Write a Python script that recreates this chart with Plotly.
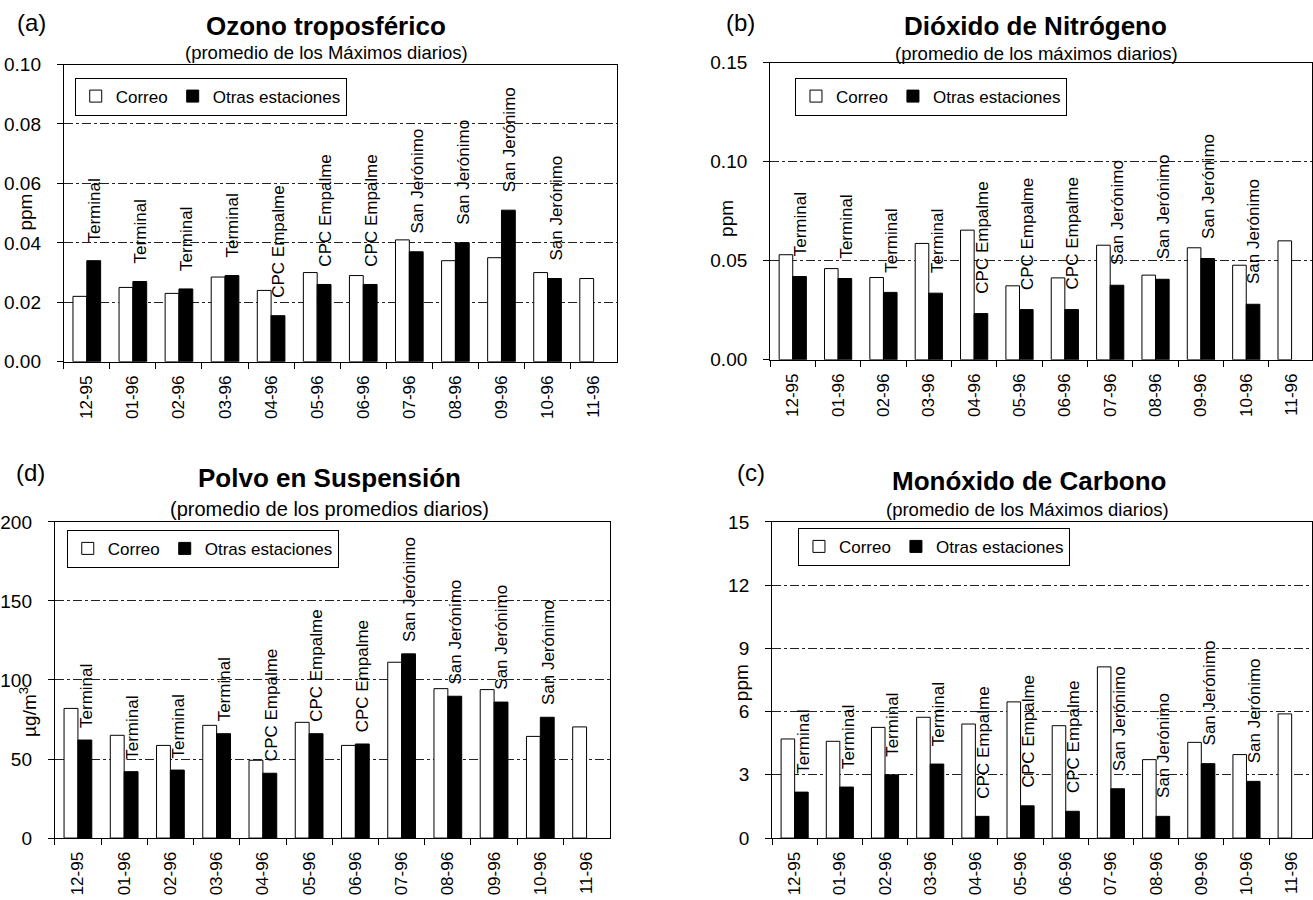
import plotly.graph_objects as go

# ---------------- data ----------------
months = ["12-95", "01-96", "02-96", "03-96", "04-96", "05-96",
          "06-96", "07-96", "08-96", "09-96", "10-96", "11-96"]
stations = ["Terminal", "Terminal", "Terminal", "Terminal",
            "CPC Empalme", "CPC Empalme", "CPC Empalme",
            "San Jerónimo", "San Jerónimo", "San Jerónimo", "San Jerónimo"]

ozono_correo = [0.022, 0.025, 0.023, 0.0285, 0.024, 0.030, 0.029, 0.041, 0.034, 0.035, 0.030, 0.028]
ozono_otras = [0.034, 0.027, 0.0245, 0.029, 0.0155, 0.026, 0.026, 0.037, 0.040, 0.051, 0.028, None]

no2_correo = [0.053, 0.046, 0.0415, 0.0587, 0.0654, 0.0373, 0.0413, 0.0578, 0.0427, 0.0565, 0.0477, 0.060]
no2_otras = [0.042, 0.041, 0.034, 0.0336, 0.0233, 0.0253, 0.0253, 0.0376, 0.0406, 0.0511, 0.028, None]

polvo_correo = [82, 65, 58.6, 71.3, 49.2, 73.2, 58.6, 111.2, 94.5, 93.9, 64.3, 70.3]
polvo_otras = [62, 42, 43, 66, 41, 66, 59.5, 116.5, 89.7, 86, 76.4, None]

co_correo = [4.7, 4.59, 5.25, 5.73, 5.41, 6.46, 5.33, 8.12, 3.72, 4.54, 3.96, 5.89]
co_otras = [2.18, 2.42, 3.0, 3.51, 1.03, 1.53, 1.27, 2.34, 1.03, 3.53, 2.69, None]

# ---------------- layout helpers ----------------
W, H = 1313, 900
FONT = "Liberation Sans, Arial, sans-serif"
# the photographed page shows the figure slightly offset / compressed vertically
Y_OFF, Y_SCALE = 9.5, 0.976


def fx(p):
    return p / W


def fy(p):
    return 1 - ((p - Y_OFF) / Y_SCALE) / H


panels = [
    dict(ax="", correo=ozono_correo, otras=ozono_otras, xd=(60, 615), yd=(64, 361),
         yr=[0, 0.10], dtick=0.02, fmt=".2f", xend=11.5, leg=(71, 77), ysh=16),
    dict(ax="2", correo=no2_correo, otras=no2_otras, xd=(769, 1313), yd=(62, 359),
         yr=[0, 0.15], dtick=0.05, fmt=".2f", xend=11.45, leg=(794, 77), ysh=18),
    dict(ax="3", correo=polvo_correo, otras=polvo_otras, xd=(51, 608), yd=(521, 837),
         yr=[0, 200], dtick=50, fmt="d", xend=11.5, leg=(63, 529), ysh=10),
    dict(ax="4", correo=co_correo, otras=co_otras, xd=(771, 1313), yd=(521, 837),
         yr=[0, 15], dtick=3, fmt="d", xend=11.45, leg=(797, 527), ysh=16),
]

fig = go.Figure()
annotations = []
layout = {}

for p in panels:
    a = p["ax"]
    legname = "legend" + a
    fig.add_trace(go.Bar(
        x=months, y=p["correo"], name="Correo",
        marker=dict(color="white", line=dict(color="black", width=1)),
        xaxis="x" + a, yaxis="y" + a, legend=legname, showlegend=True))
    fig.add_trace(go.Bar(
        x=months, y=p["otras"], name="Otras estaciones",
        marker=dict(color="black", line=dict(color="black", width=1)),
        xaxis="x" + a, yaxis="y" + a, legend=legname, showlegend=True))

    layout["xaxis" + a] = dict(
        domain=[fx(p["xd"][0]), fx(p["xd"][1])], anchor="y" + a,
        type="category", range=[-0.5, p["xend"]],
        tickson="boundaries", ticks="outside", ticklen=6, tickcolor="black",
        tickangle=-90, tickfont=dict(size=17, color="black", family=FONT),
        ticklabelstandoff=6,
        showline=True, linecolor="black", linewidth=1, mirror=True,
        showgrid=False, fixedrange=True)
    layout["yaxis" + a] = dict(
        domain=[fy(p["yd"][1]), fy(p["yd"][0])], anchor="x" + a,
        range=p["yr"], dtick=p["dtick"], tick0=0, tickformat=p["fmt"],
        ticks="outside", ticklen=6, tickcolor="black",
        tickfont=dict(size=19, color="black", family=FONT),
        ticklabelstandoff=12,
        showline=True, linecolor="black", linewidth=1, mirror=True,
        showgrid=True, gridcolor="#222222", gridwidth=1, griddash="dashdot",
        zeroline=False, fixedrange=True)
    layout[legname] = dict(
        x=fx(p["leg"][0]), y=fy(p["leg"][1]), xanchor="left", yanchor="top",
        xref="paper", yref="paper",
        orientation="h", bgcolor="white", bordercolor="black", borderwidth=1,
        font=dict(size=17, color="black", family=FONT), itemwidth=30,
        tracegroupgap=0)

    # station labels above the black bars
    for m, st, v in zip(months, stations, p["otras"]):
        annotations.append(dict(
            x=m, y=v, xref="x" + a, yref="y" + a, text=st, textangle=-90,
            showarrow=False, xanchor="center", yanchor="bottom",
            xshift=8, yshift=p["ysh"],
            font=dict(size=17, color="black", family=FONT)))

# titles, subtitles, panel letters, axis titles
texts = [
    ("(a)", 28, 22, 24, 0),
    ("<b>Ozono troposférico</b>", 323, 25, 26, 0),
    ("(promedio de los Máximos diarios)", 324, 52, 18.5, 0),
    ("(b)", 739, 22, 24, 0),
    ("<b>Dióxido de Nitrógeno</b>", 1035, 25, 26, 0),
    ("(promedio de los máximos diarios)", 1036, 53, 18.5, 0),
    ("(d)", 27, 472, 24, 0),
    ("<b>Polvo en Suspensión</b>", 327, 477, 26, 0),
    ("(promedio de los promedios diarios)", 327, 508, 20, 0),
    ("(c)", 750, 472, 24, 0),
    ("<b>Monóxido de Carbono</b>", 1029, 480, 26, 0),
    ("(promedio de los Máximos diarios)", 1027, 509, 18.5, 0),
    ("ppm", 22, 211, 19, -90),
    ("ppm", 725, 218, 19, -90),
    ("µg/m<sup>3</sup>", 24, 711, 19, -90),
    ("ppm", 741, 682, 19, -90),
]
for t, x, y, s, ang in texts:
    annotations.append(dict(
        x=fx(x), y=fy(y), xref="paper", yref="paper", text=t,
        showarrow=False, xanchor="center", yanchor="middle", textangle=ang,
        font=dict(size=s, color="black", family=FONT)))

fig.update_layout(
    width=W, height=H, margin=dict(l=0, r=0, t=0, b=0),
    paper_bgcolor="white", plot_bgcolor="white",
    barmode="group", bargap=0.4, bargroupgap=0,
    font=dict(family=FONT, color="black"),
    annotations=annotations,
    **layout)

post = (
    "document.documentElement.style.margin='0';"
    "document.documentElement.style.overflow='hidden';"
    "document.body.style.margin='0';"
    "document.body.style.overflow='hidden';"
    "var g=document.getElementById('{plot_id}');"
    "g.style.position='absolute';g.style.left='0px';g.style.top='0px';"
)
fig.write_html("out.html", config={"displayModeBar": False}, post_script=post)
